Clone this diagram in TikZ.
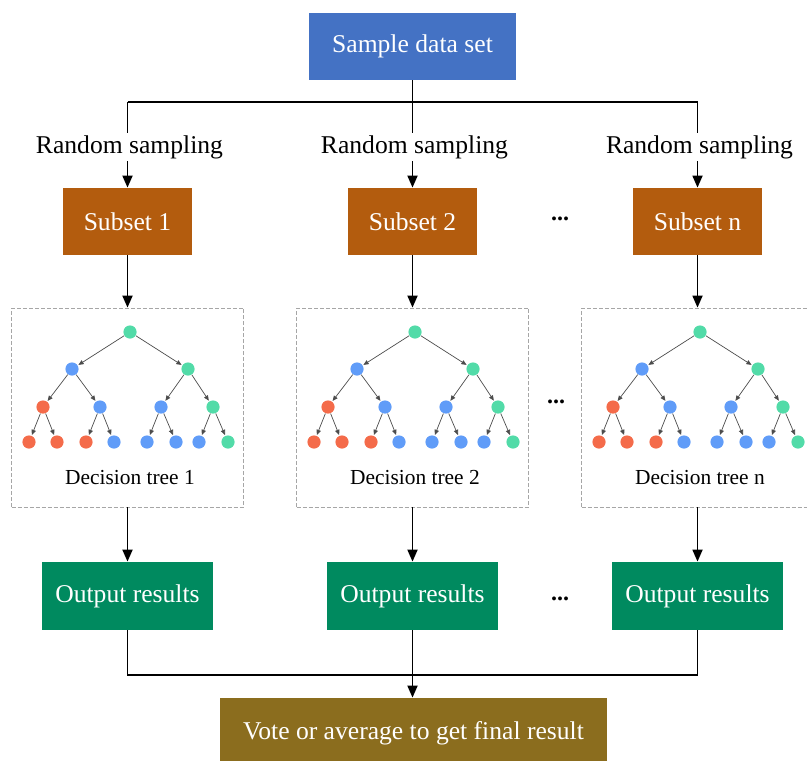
\documentclass[tikz,border=0pt]{standalone}
\usepackage{fontspec}
\setmainfont{Liberation Serif}
\usetikzlibrary{arrows.meta}

\definecolor{sampleblue}{HTML}{4472C4}
\definecolor{subsetbrown}{HTML}{B35C0E}
\definecolor{outgreen}{HTML}{008A5F}
\definecolor{finalolive}{HTML}{8B6D1E}
\definecolor{leafgreen}{HTML}{52DBA8}
\definecolor{leafblue}{HTML}{609CF8}
\definecolor{leafred}{HTML}{F46B4A}

\tikzset{
  box/.style={rectangle, fill=#1, text=white, inner sep=0pt,
    font=\fontsize{12.8}{15}\selectfont},
  lbl/.style={fill=white, inner sep=1pt, font=\fontsize{12.8}{15}\selectfont},
  arr/.style={line width=0.9pt, -{Triangle[length=6pt,width=5pt]}},
  link/.style={line width=0.9pt},
  treebox/.style={draw=gray!70, dash pattern=on 2pt off 1pt, line width=0.4pt,
    minimum width=116pt, minimum height=99.5pt, inner sep=0pt},
  dot/.style={circle, fill=#1, minimum size=6.6pt, inner sep=0pt},
  twig/.style={draw=black!70, line width=0.35pt, -{Triangle[length=2.6pt,width=2.2pt]},
    shorten >=0.3pt},
  ell/.style={font=\fontsize{12}{14}\selectfont\bfseries}
}

\begin{document}
\begin{tikzpicture}[x=0.5pt,y=-0.5pt]
  \useasboundingbox (0,0) rectangle (807,760);

  \node[box=sampleblue, minimum width=103.5pt, minimum height=33.5pt] (sample) at (412.5,46.5) {Sample data set};

  \coordinate (j1) at (127.5,102);
  \coordinate (jn) at (697.5,102);

  \foreach \c/\k in {127.5/1,412.5/2,697.5/n}{
    \node[lbl] (rs\k) at (\c+2,147) {Random sampling};
    \node[box=subsetbrown, minimum width=64.5pt, minimum height=33.5pt] (sub\k) at (\c,221.5) {Subset \k};
    \node[treebox] (tree\k) at (\c,407.5) {};
    \node[box=outgreen, minimum width=85.5pt, minimum height=34pt] (out\k) at (\c,596) {Output results};

    \node[dot=leafgreen] (r\k) at (\c+2.5,332) {};
    \node[dot=leafblue] (a\k) at (\c-55.5,369) {};
    \node[dot=leafgreen] (b\k) at (\c+60.5,369) {};
    \node[dot=leafred] (aa\k) at (\c-84.5,407) {};
    \node[dot=leafblue] (ab\k) at (\c-27.5,407) {};
    \node[dot=leafblue] (ba\k) at (\c+33.5,407) {};
    \node[dot=leafgreen] (bb\k) at (\c+85.5,407) {};
    \node[dot=leafred] (l1\k) at (\c-98.5,442) {};
    \node[dot=leafred] (l2\k) at (\c-70.5,442) {};
    \node[dot=leafred] (l3\k) at (\c-41.5,442) {};
    \node[dot=leafblue] (l4\k) at (\c-13.5,442) {};
    \node[dot=leafblue] (l5\k) at (\c+19.5,442) {};
    \node[dot=leafblue] (l6\k) at (\c+48.5,442) {};
    \node[dot=leafblue] (l7\k) at (\c+71.5,442) {};
    \node[dot=leafgreen] (l8\k) at (\c+100.5,442) {};

    \draw[twig] (r\k) -- (a\k);
    \draw[twig] (r\k) -- (b\k);
    \draw[twig] (a\k) -- (aa\k);
    \draw[twig] (a\k) -- (ab\k);
    \draw[twig] (b\k) -- (ba\k);
    \draw[twig] (b\k) -- (bb\k);
    \draw[twig] (aa\k) -- (l1\k);
    \draw[twig] (aa\k) -- (l2\k);
    \draw[twig] (ab\k) -- (l3\k);
    \draw[twig] (ab\k) -- (l4\k);
    \draw[twig] (ba\k) -- (l5\k);
    \draw[twig] (ba\k) -- (l6\k);
    \draw[twig] (bb\k) -- (l7\k);
    \draw[twig] (bb\k) -- (l8\k);

    \node[font=\fontsize{10.7}{13}\selectfont] (dt\k) at (\c+2.5,478) {Decision tree \k};

    \draw[arr] (sub\k) -- (tree\k);
    \draw[arr] (tree\k) -- (out\k);
  }

  \draw[link] (sample.south) -- (sample.south |- rs2.north);
  \draw[link] (j1) -- (jn);
  \draw[link] (j1) -- (j1 |- rs1.north);
  \draw[link] (jn) -- (jn |- rsn.north);
  \foreach \k in {1,2,n}
    \draw[arr] (rs\k.south -| sub\k) -- (sub\k.north);

  \node[ell] (dots1) at (560,219) {...};
  \node[ell] (dots2) at (556,402) {...};
  \node[ell] (dots3) at (560,599) {...};

  \node[box=finalolive, minimum width=193.5pt, minimum height=35pt] (final) at (413.5,733) {Vote or average to get final result};

  \coordinate (m1) at (127.5,675);
  \coordinate (mn) at (697.5,675);
  \draw[link] (out1.south) -- (m1) -- (mn) -- (outn.south);
  \draw[arr] (out2.south) -- (out2.south |- final.north);
\end{tikzpicture}
\end{document}
